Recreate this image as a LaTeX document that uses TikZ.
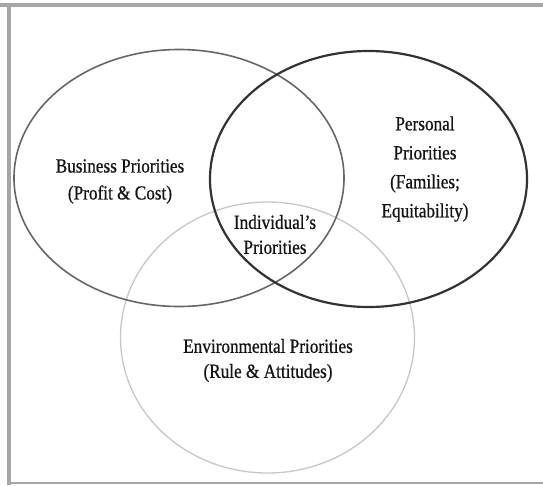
\documentclass[tikz,border=0pt]{standalone}
\usepackage{fontspec}
\setmainfont{Liberation Serif}[FakeStretch=0.86, FakeBold=0.7]
\usetikzlibrary{shapes.geometric}

\begin{document}
\begin{tikzpicture}[x=1pt, y=-1pt,
  venn/.style = {draw, ellipse, inner sep=0pt},
  txt/.style = {align=center, text=black!92, font=\fontsize{20}{27}\selectfont}]
  \useasboundingbox (0,0) rectangle (543,485);
  % frame round the figure
  \draw[line width=4pt, black!35] (0,5) -- (543,5);
  \draw[line width=4pt, black!35] (9,3) -- (9,485);
  \draw[line width=2pt, black!35] (9,483) -- (543,483);
  % the three sets
  \node[venn, draw=black!22, line width=1.3pt, minimum width=294pt, minimum height=271pt] (env) at (267.5,337.5) {};
  \node[venn, draw=black!60, line width=1.6pt, minimum width=330pt, minimum height=257pt] (business) at (179,178) {};
  \node[venn, draw=black!80, line width=2.2pt, minimum width=317pt, minimum height=256pt] (personal) at (368.5,179) {};
  % labels
  \node[txt] (busLbl) at (120,181.5) {Business Priorities\\(Profit \& Cost)};
  \node[txt, font=\fontsize{20}{29}\selectfont] (persLbl) at (425,169) {Personal\\Priorities\\(Families;\\Equitability)};
  \node[txt, font=\fontsize{20}{25}\selectfont] (indLbl) at (275,234.5) {Individual’s\\Priorities};
  \node[txt, font=\fontsize{20}{25}\selectfont] (envLbl) at (268,360.5) {Environmental Priorities\\(Rule \& Attitudes)};
\end{tikzpicture}
\end{document}
